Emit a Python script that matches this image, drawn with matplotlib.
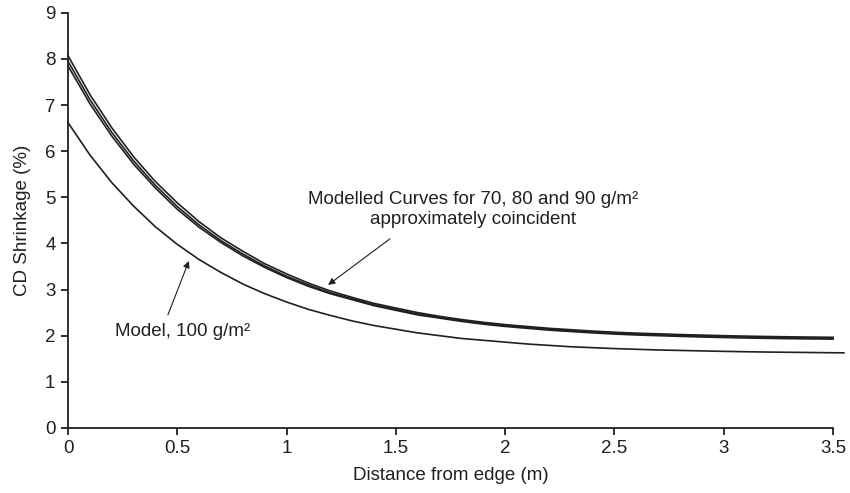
import matplotlib
matplotlib.use('Agg')
import matplotlib.pyplot as plt
import numpy as np

plt.rcParams['font.family'] = ['Liberation Sans', 'DejaVu Sans']

# Distance from edge (m)
distance = [0.0, 0.1, 0.2, 0.3, 0.4, 0.5, 0.6, 0.7, 0.8, 0.9, 1.0, 1.1, 1.2, 1.3, 1.4,
            1.5, 1.6, 1.7, 1.8, 1.9, 2.0, 2.1, 2.2, 2.3, 2.4, 2.5, 2.6, 2.7, 2.8, 2.9,
            3.0, 3.1, 3.2, 3.3, 3.4, 3.5]
distance_100 = distance + [3.55]

# CD shrinkage (%)
shrink_70 = [8.07, 7.23, 6.51, 5.88, 5.34, 4.88, 4.47, 4.12, 3.83, 3.56, 3.34, 3.14,
             2.97, 2.83, 2.70, 2.60, 2.50, 2.42, 2.35, 2.29, 2.24, 2.20, 2.16, 2.13,
             2.10, 2.075, 2.055, 2.04, 2.025, 2.012, 2.0, 1.99, 1.982, 1.975, 1.97, 1.965]
shrink_80 = [7.95, 7.12, 6.41, 5.79, 5.26, 4.80, 4.40, 4.06, 3.77, 3.51, 3.29, 3.10,
             2.93, 2.80, 2.67, 2.57, 2.47, 2.40, 2.33, 2.27, 2.22, 2.18, 2.14, 2.11,
             2.08, 2.055, 2.035, 2.02, 2.005, 1.992, 1.98, 1.97, 1.962, 1.955, 1.95, 1.945]
shrink_90 = [7.85, 7.03, 6.33, 5.72, 5.20, 4.74, 4.35, 4.02, 3.73, 3.48, 3.26, 3.07,
             2.91, 2.78, 2.65, 2.55, 2.45, 2.38, 2.31, 2.25, 2.20, 2.16, 2.12, 2.09,
             2.06, 2.035, 2.015, 2.0, 1.985, 1.972, 1.96, 1.95, 1.942, 1.935, 1.93, 1.925]
shrink_100 = [6.62, 5.92, 5.32, 4.81, 4.36, 3.98, 3.65, 3.37, 3.12, 2.91, 2.73, 2.57,
              2.44, 2.32, 2.22, 2.14, 2.06, 2.00, 1.94, 1.90, 1.86, 1.82, 1.79, 1.76,
              1.74, 1.72, 1.705, 1.69, 1.68, 1.67, 1.66, 1.652, 1.645, 1.64, 1.635, 1.63,
              1.628]

x_ticks = [0, 0.5, 1, 1.5, 2, 2.5, 3, 3.5]
x_tick_labels = ['0', '0.5', '1', '1.5', '2', '2.5', '3', '3.5']

line_color = '#231f20'
fs = 13.5

fig = plt.figure(figsize=(8.5, 4.93), dpi=100)
ax = fig.add_axes([0.08, 0.132, 0.9, 0.842])

for series in (shrink_70, shrink_80, shrink_90):
    ax.plot(distance, series, color=line_color, linewidth=1.2, clip_on=False)
ax.plot(distance_100, shrink_100, color=line_color, linewidth=1.2, clip_on=False)

ax.set_xlim(0, 3.5)
ax.set_ylim(0, 9)
ax.set_xticks(x_ticks)
ax.set_xticklabels(x_tick_labels)
ax.set_yticks(range(0, 10))

for side in ('top', 'right'):
    ax.spines[side].set_visible(False)
for side in ('left', 'bottom'):
    ax.spines[side].set_linewidth(1.3)
    ax.spines[side].set_color(line_color)
ax.tick_params(direction='out', length=5, width=1.3, color=line_color,
               labelsize=fs, labelcolor=line_color, pad=4)

ax.set_xlabel('Distance from edge (m)', fontsize=fs, color=line_color, labelpad=7)
ax.set_ylabel('CD Shrinkage (%)', fontsize=fs, color=line_color, labelpad=10)

arrow = dict(arrowstyle='-|>', color=line_color, lw=0.8, mutation_scale=10,
             shrinkA=0, shrinkB=0)
ax.annotate('', xy=(1.19, 3.10), xytext=(1.473, 4.1), arrowprops=arrow)
ax.text(1.853, 4.73, 'Modelled Curves for 70, 80 and 90 g/m²\napproximately coincident',
        ha='center', va='center', fontsize=fs, color=line_color, linespacing=1.2)

ax.annotate('', xy=(0.553, 3.62), xytext=(0.457, 2.45), arrowprops=arrow)
ax.text(0.215, 2.1, 'Model, 100 g/m²', ha='left', va='center', fontsize=fs,
        color=line_color)

fig.savefig('out.png', dpi=100)
